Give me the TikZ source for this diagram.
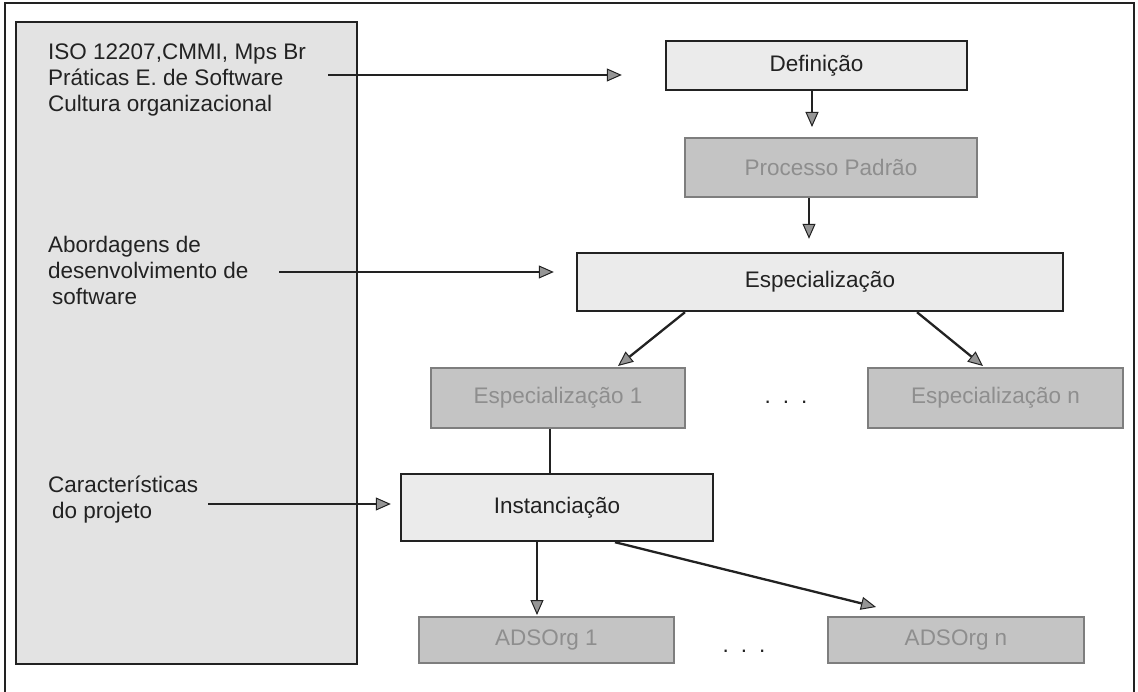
\documentclass[tikz,border=0pt]{standalone}
\usepackage{fontspec}
\setmainfont{Liberation Sans}
\usetikzlibrary{arrows.meta}

\definecolor{ink}{HTML}{222222}
\definecolor{panelFill}{HTML}{E3E3E3}
\definecolor{paleFill}{HTML}{EBEBEB}
\definecolor{greyFill}{HTML}{C4C4C4}
\definecolor{greyText}{HTML}{8E8E8E}
\definecolor{greyEdge}{HTML}{7E7E7E}
\definecolor{headFill}{HTML}{959595}

\begin{document}
\begin{tikzpicture}[x=1pt,y=-1pt,
  txt/.style={font=\fontsize{22.5}{26}\selectfont, text=ink, inner sep=0pt},
  panel/.style={draw=ink, line width=2.2pt, fill=panelFill, inner sep=0pt},
  palebox/.style={draw=ink, line width=2.4pt, fill=paleFill, text=ink, inner sep=0pt,
    font=\fontsize{22.5}{26}\selectfont},
  greybox/.style={draw=greyEdge, line width=2pt, fill=greyFill, text=greyText, inner sep=0pt,
    font=\fontsize{22.5}{26}\selectfont},
  flow/.style={draw=ink, line width=2.3pt,
    -{Triangle[length=15pt,width=13pt,line width=1pt,fill=headFill]}},
  link/.style={draw=ink, line width=2.3pt},
  dotrow/.style={font=\fontsize{22.5}{26}\selectfont, text=ink, inner sep=0pt}
]
\useasboundingbox (0,0) rectangle (1138,692);
\fill[white] (0,0) rectangle (1138,692);

% outer frame (its lower edge falls below the page)
\draw[ink, line width=1.8pt] (5,692) -- (5,3) -- (1134,3) -- (1134,692);

% left panel with the inputs
\node[panel, minimum width=341pt, minimum height=642pt] (inputs) at (186.5,343) {};

\node[txt, anchor=north west, align=left] (src1) at (48,44)
  {ISO 12207,CMMI, Mps Br\\Práticas E. de Software\\Cultura organizacional};
\node[txt, anchor=north west, align=left] (src2) at (48,236)
  {Abordagens de\\desenvolvimento de\\\hspace{4pt}software};
\node[txt, anchor=north west, align=left] (src3) at (48,476)
  {Características\\\hspace{4pt}do projeto};

% process boxes
\node[palebox, minimum width=301pt, minimum height=49pt] (def) at (816.5,65.5) {Definição};
\node[greybox, minimum width=292pt, minimum height=59pt] (proc) at (831,167.5) {Processo Padrão};
\node[palebox, minimum width=486pt, minimum height=58pt] (spec) at (820,282) {Especialização};
\node[greybox, minimum width=254pt, minimum height=60pt] (esp1) at (558,398) {Especialização 1};
\node[greybox, minimum width=255pt, minimum height=60pt] (espn) at (995.5,398) {Especialização n};
\node[palebox, minimum width=312pt, minimum height=67pt] (inst) at (557,507.5) {Instanciação};
\node[greybox, minimum width=255pt, minimum height=46pt] (ads1) at (546.5,640) {ADSOrg 1};
\node[greybox, minimum width=256pt, minimum height=46pt] (adsn) at (956,640) {ADSOrg n};

\node[dotrow, anchor=base] (dotsA) at (786,404) {.\hspace{12pt}.\hspace{12pt}.};
\node[dotrow, anchor=base] (dotsB) at (744,652) {.\hspace{12pt}.\hspace{12pt}.};

% free ends of the input arrows
\coordinate (a1) at (328,75);
\coordinate (a2) at (279,272);
\coordinate (a3) at (208,504);

% connectors
\draw[flow, shorten >=43pt] (a1) -- (def.west |- a1);
\draw[flow, shorten >=22pt] (a2) -- (spec.west |- a2);
\draw[flow, shorten >=9pt]  (a3) -- (inst.west |- a3);

\draw[flow, shorten >=10pt] ([xshift=-4.5pt]def.south) -- ([xshift=-4.5pt]def.south |- proc.north);
\draw[flow, shorten >=13pt] ([xshift=-22pt]proc.south) -- ([xshift=-22pt]proc.south |- spec.north);
\draw[flow] ([xshift=-135pt]spec.south) -- ([xshift=60pt,yshift=1pt]esp1.north);
\draw[flow] ([xshift=97pt]spec.south) -- ([xshift=-12.5pt,yshift=1pt]espn.north);
\draw[link] ([xshift=-8pt]esp1.south) -- ([xshift=-8pt]esp1.south |- inst.north);
\draw[flow, shorten >=1pt] ([xshift=-20pt]inst.south) -- ([xshift=-20pt]inst.south |- ads1.north);
\draw[flow] ([xshift=58pt]inst.south) -- ([xshift=-80pt,yshift=9pt]adsn.north);
\end{tikzpicture}
\end{document}
